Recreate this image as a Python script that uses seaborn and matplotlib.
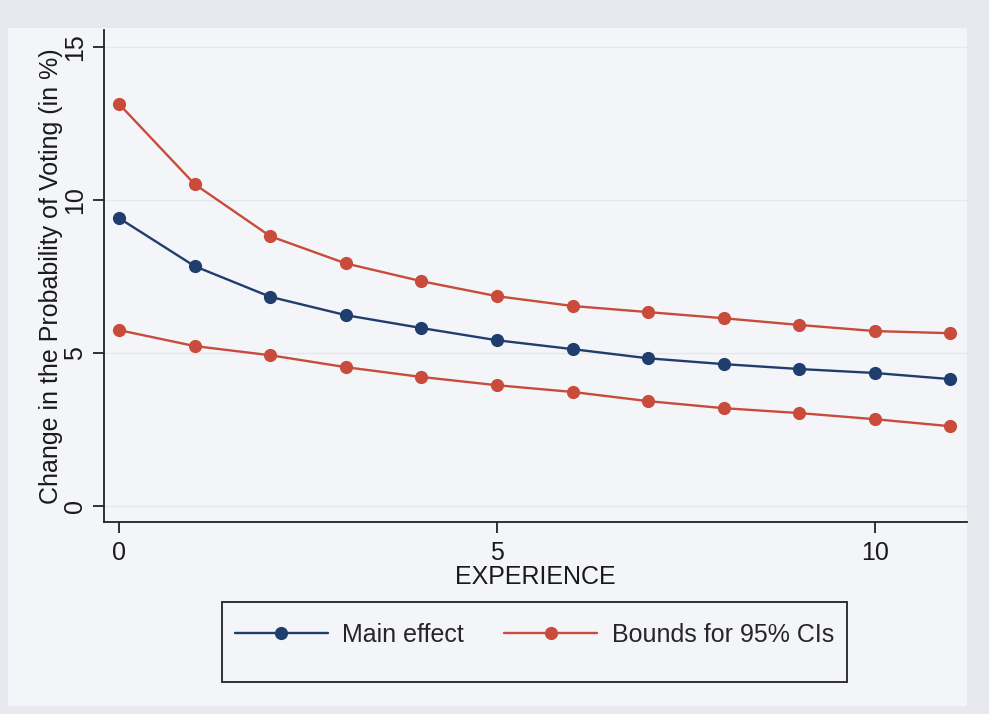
import matplotlib
matplotlib.use("Agg")
import matplotlib.pyplot as plt
from matplotlib.patches import Rectangle
import seaborn as sns
import pandas as pd

experience = list(range(12))
main_effect = [9.41, 7.84, 6.84, 6.24, 5.82, 5.42, 5.13, 4.83, 4.64, 4.48, 4.35, 4.15]
upper_bound = [13.14, 10.52, 8.82, 7.93, 7.35, 6.86, 6.54, 6.34, 6.14, 5.92, 5.72, 5.65]
lower_bound = [5.75, 5.23, 4.93, 4.54, 4.22, 3.95, 3.73, 3.43, 3.20, 3.04, 2.84, 2.61]
y_ticks = [0, 5, 10, 15]
x_ticks = [0, 5, 10]

BLUE = "#1f3d6d"
RED = "#c84b3b"
OUTER_BG = "#e7e9ee"
INNER_BG = "#f4f5f8"
FS = 18

sns.set_style("white")
plt.rcParams["font.family"] = ["Liberation Sans", "DejaVu Sans"]

W, H = 989, 714
fig = plt.figure(figsize=(W / 100, H / 100), dpi=100)
fig.patch.set_facecolor(OUTER_BG)

# lighter graph region, kept behind the axes
fig.patches.append(Rectangle((8 / W, 1 - 706 / H), (967 - 8) / W, (706 - 28) / H,
                             transform=fig.transFigure, facecolor=INNER_BG,
                             edgecolor="none", zorder=-5))

ax = fig.add_axes([104 / W, 1 - 522 / H, (967 - 104) / W, (522 - 30) / H])
ax.set_facecolor(INNER_BG)
ax.set_zorder(2)

df = pd.DataFrame({"experience": experience, "main": main_effect,
                   "upper": upper_bound, "lower": lower_bound})

line_kw = dict(marker="o", markersize=9.5, linewidth=1.7, markeredgewidth=0)
sns.lineplot(data=df, x="experience", y="main", ax=ax, color=BLUE,
             label="Main effect", **line_kw)
sns.lineplot(data=df, x="experience", y="upper", ax=ax, color=RED,
             label="Bounds for 95% CIs", **line_kw)
sns.lineplot(data=df, x="experience", y="lower", ax=ax, color=RED,
             label="_nolegend_", **line_kw)

ax.set_xlim(-0.2, 11.22)
ax.set_ylim(-0.52, 15.56)
ax.set_xticks(x_ticks)
ax.set_yticks(y_ticks)
ax.yaxis.grid(True, color="#e4e7ec", linewidth=1.0)
ax.set_axisbelow(True)

for side in ["top", "right"]:
    ax.spines[side].set_visible(False)
for side in ["left", "bottom"]:
    ax.spines[side].set_color("#222222")
    ax.spines[side].set_linewidth(1.3)

ax.tick_params(axis="both", direction="out", length=8, width=1.3,
               bottom=True, left=True,
               color="#222222", labelsize=FS, labelcolor="#1a1a1a", pad=4)
ax.tick_params(axis="x", pad=6)
for lbl in ax.get_yticklabels():
    lbl.set_rotation(90)
    lbl.set_va("center")

ax.set_xlabel("EXPERIENCE", fontsize=FS, color="#1a1a1a", labelpad=0)
ax.set_ylabel("Change in the Probability of Voting (in %)", fontsize=FS,
              color="#1a1a1a", labelpad=0)

# legend box
fig.patches.append(Rectangle((222 / W, 1 - 682 / H), (847 - 222) / W, (682 - 602) / H,
                             transform=fig.transFigure, facecolor=INNER_BG,
                             edgecolor="#222222", linewidth=1.3, zorder=1))
handles, labels = ax.get_legend_handles_labels()
ax.get_legend().remove()
fig.legend(handles, labels, loc="center left",
           bbox_to_anchor=(235 / W, 1 - 635 / H), ncol=2, frameon=False,
           fontsize=FS, handlelength=3.7, handletextpad=0.6,
           columnspacing=1.6, borderpad=0, borderaxespad=0)

fig.savefig("out.png", dpi=100, facecolor=fig.get_facecolor())
